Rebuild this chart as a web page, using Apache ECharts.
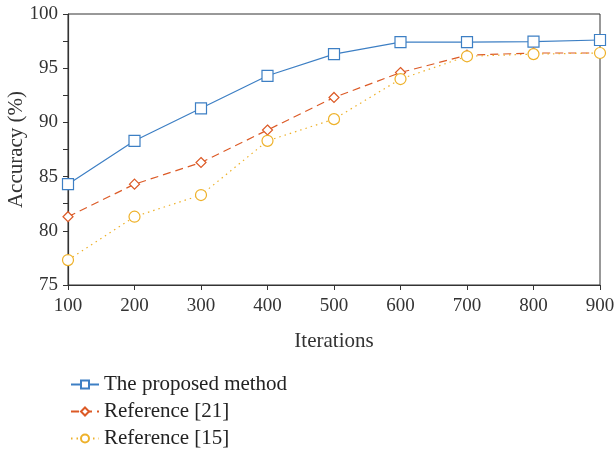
<!DOCTYPE html>
<html>
<head>
<meta charset="utf-8">
<script src="https://cdn.jsdelivr.net/npm/echarts@6/dist/echarts.min.js"></script>
<style>
  html, body { margin: 0; padding: 0; background: #fff; }
  #main { width: 616px; height: 449px; }
</style>
</head>
<body>
<div id="main"></div>
<script>
// data
var iterations = ['100', '200', '300', '400', '500', '600', '700', '800', '900'];
var proposed = [84.3, 88.3, 91.3, 94.3, 96.3, 97.4, 97.4, 97.45, 97.6];
var ref21 = [81.3, 84.3, 86.3, 89.3, 92.3, 94.6, 96.2, 96.4, 96.4];
var ref15 = [77.3, 81.3, 83.3, 88.3, 90.3, 94.0, 96.1, 96.3, 96.4];
var seriesNames = ['The proposed method', 'Reference [21]', 'Reference [15]'];

var FONT = 'Liberation Serif';
var TXT = '#333';

var chart = echarts.init(document.getElementById('main'));

function mk(name, data, color, symbol, size, lineType) {
  return {
    name: name,
    type: 'line',
    data: data,
    symbol: symbol,
    symbolSize: size,
    showAllSymbol: true,
    lineStyle: { color: color, width: 1.2, type: lineType },
    itemStyle: { color: '#fff', borderColor: color, borderWidth: 1.2 },
    emphasis: { disabled: true },
    animation: false
  };
}

chart.setOption({
  animation: false,
  grid: {
    left: 68, right: 16, top: 14, height: 271,
    outerBoundsMode: 'none',
    containLabel: false,
    show: true, borderColor: '#333', borderWidth: 1
  },
  legend: {
    orient: 'vertical',
    left: 65, top: 369, height: 80,
    itemGap: 6,
    itemWidth: 28, itemHeight: 10,
    textStyle: { fontFamily: FONT, fontSize: 21, lineHeight: 21, color: '#222' },
    data: seriesNames
  },
  xAxis: {
    type: 'category',
    data: iterations,
    boundaryGap: false,
    name: 'Iterations',
    nameLocation: 'middle',
    nameGap: 46,
    nameTextStyle: { fontFamily: FONT, fontSize: 21, color: TXT },
    axisLine: { lineStyle: { color: '#333', width: 1.2 } },
    axisTick: { show: true, inside: false, length: 5, alignWithLabel: true, lineStyle: { color: '#333', width: 1 } },
    axisLabel: { fontFamily: FONT, fontSize: 19, color: TXT, margin: 12 },
    splitLine: { show: false }
  },
  yAxis: {
    type: 'value',
    min: 75, max: 100, interval: 5,
    name: 'Accuracy (%)',
    nameLocation: 'middle',
    nameGap: 41,
    nameMoveOverlap: false,
    nameTextStyle: { fontFamily: FONT, fontSize: 21, color: TXT },
    axisLine: { show: true, lineStyle: { color: '#333', width: 1.2 } },
    axisTick: { show: true, inside: false, length: 5, lineStyle: { color: '#333', width: 1 } },
    minorTick: { show: true, splitNumber: 2, length: 5, lineStyle: { color: '#333', width: 1 } },
    axisLabel: { fontFamily: FONT, fontSize: 19, color: TXT, margin: 10 },
    splitLine: { show: false }
  },
  series: [
    mk(seriesNames[0], proposed, '#3d7fc4', 'rect', 11, 'solid'),
    mk(seriesNames[1], ref21, '#dc5a26', 'diamond', 10, [8, 5]),
    mk(seriesNames[2], ref15, '#eeb12a', 'circle', 11, [1.5, 4])
  ]
});
</script>
</body>
</html>
